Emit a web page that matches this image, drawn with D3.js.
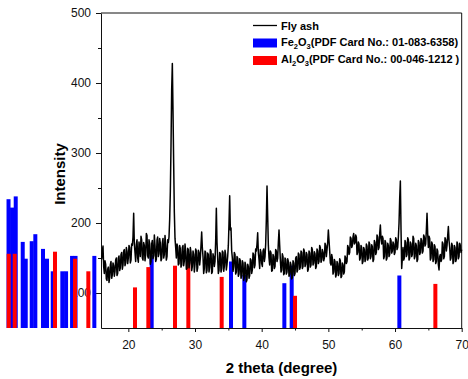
<!DOCTYPE html>
<html>
<head>
<meta charset="utf-8">
<script src="https://cdn.jsdelivr.net/npm/d3@7/dist/d3.min.js"></script>
<style>
  body { margin: 0; background: #fff; }
  svg { font-family: "Liberation Sans", Arial, sans-serif; }
</style>
</head>
<body>
<svg id="chart" width="468" height="379"></svg>
<script>
// XRD scan of fly ash (2 theta from 16.0, every 0.1 deg)
const scanStart = 16.0;
const scanStep = 0.1;
const flyAsh = [
  148, 160, 167, 138, 128, 146, 141, 120, 118, 134, 137, 115, 122, 140, 145, 121, 126, 143, 139, 124,
  131, 147, 150, 125, 128, 150, 153, 132, 136, 155, 158, 134, 140, 160, 162, 139, 143, 165, 160, 142,
  150, 168, 165, 143, 147, 170, 168, 180, 214, 170, 158, 145, 170, 176, 150, 144, 173, 165, 152, 181,
  176, 150, 147, 172, 168, 146, 155, 185, 182, 153, 150, 176, 171, 141, 145, 170, 175, 149, 153, 183,
  169, 145, 148, 176, 180, 152, 156, 178, 171, 146, 149, 172, 178, 150, 155, 182, 168, 147, 152, 176,
  172, 180, 205, 245, 310, 390, 428, 360, 285, 215, 178, 165, 150, 170, 166, 140, 142, 168, 163, 137,
  140, 165, 168, 139, 146, 170, 160, 134, 135, 164, 162, 136, 143, 165, 158, 132, 138, 160, 155, 130,
  141, 163, 160, 131, 136, 161, 158, 140, 150, 168, 187, 165, 152, 128, 135, 160, 158, 129, 132, 157,
  155, 130, 137, 162, 160, 128, 130, 156, 152, 138, 145, 175, 221, 172, 150, 128, 132, 158, 156, 130,
  135, 160, 158, 131, 138, 161, 155, 133, 141, 152, 168, 200, 239, 190, 193, 160, 150, 131, 138, 158,
  155, 127, 130, 152, 150, 124, 127, 149, 146, 121, 125, 146, 143, 118, 122, 144, 140, 116, 119, 141,
  138, 121, 125, 149, 147, 128, 133, 157, 155, 136, 140, 163, 160, 170, 186, 158, 148, 135, 162, 158,
  142, 138, 160, 163, 145, 152, 170, 205, 253, 210, 168, 150, 140, 160, 157, 131, 132, 155, 152, 135,
  138, 162, 160, 145, 150, 172, 190, 168, 148, 130, 133, 156, 152, 126, 128, 150, 148, 127, 130, 149,
  145, 124, 127, 144, 140, 120, 122, 146, 143, 125, 128, 150, 152, 130, 133, 157, 155, 134, 137, 160,
  158, 135, 138, 163, 160, 138, 141, 158, 155, 131, 134, 160, 157, 137, 140, 165, 162, 140, 143, 159,
  156, 135, 138, 163, 160, 142, 145, 168, 165, 144, 147, 162, 158, 146, 150, 171, 168, 152, 162, 172,
  190, 175, 160, 143, 140, 155, 150, 127, 130, 148, 145, 123, 126, 145, 142, 125, 128, 149, 146, 122,
  124, 143, 140, 127, 130, 153, 150, 142, 145, 168, 165, 155, 158, 180, 178, 165, 168, 180, 185, 170,
  172, 183, 180, 155, 158, 173, 170, 147, 150, 168, 165, 142, 145, 165, 162, 145, 148, 170, 167, 147,
  150, 173, 170, 149, 152, 169, 166, 145, 148, 175, 172, 155, 158, 183, 180, 162, 165, 185, 197, 178,
  170, 181, 178, 149, 152, 175, 172, 147, 150, 171, 168, 152, 155, 178, 175, 157, 160, 173, 170, 155,
  158, 179, 176, 162, 165, 180, 200, 235, 260, 190, 135, 150, 165, 147, 150, 175, 172, 152, 155, 179,
  176, 147, 150, 173, 170, 152, 155, 181, 178, 149, 152, 171, 168, 145, 148, 175, 172, 155, 158, 178,
  175, 157, 160, 183, 180, 167, 170, 190, 214, 185, 165, 181, 178, 147, 150, 173, 170, 145, 148, 169,
  166, 142, 145, 163, 160, 140, 133, 152, 155, 145, 148, 173, 170, 149, 152, 179, 176, 160, 168, 182,
  195, 175, 165, 147, 150, 171, 168, 142, 145, 168, 165, 145, 148, 173, 170, 149, 152, 171, 168, 158,
  162
];

// reference pattern sticks (2 theta, intensity)
const fe2o3Pos = [2.03, 2.56, 3.11, 4.16, 4.61, 5.51, 6.05, 7.2, 7.8, 8.66, 10.1, 10.66, 11.56, 12.08, 14.9,
                  23.5, 35.4, 37.4, 43.4, 44.5, 60.65];
const fe2o3Int = [234, 222, 238, 173, 149, 174, 184, 163, 149, 131, 131, 131, 153, 153, 153,
                  154, 145, 126, 114, 139, 125];
const al2o3Pos = [2.06, 2.96, 9.0, 12.0, 14.0,
                  21.0, 23.0, 27.0, 29.0, 34.0, 45.0, 66.05];
const al2o3Int = [156, 156, 159, 149, 131,
                  108, 137, 139, 147, 123, 96, 113];

const xTicks = [20, 30, 40, 50, 60, 70];
const xMinor = [25, 35, 45, 55, 65];
const yTicks = [100, 200, 300, 400, 500];
const yMinor = [150, 250, 350, 450];

const legendLabels = ["Fly ash", "Fe", "Al"];

let svg = d3.select("#chart");

let x = d3.scaleLinear().domain([15.9, 70]).range([101, 461.7]);
let y = d3.scaleLinear().domain([50, 500]).range([328, 13]);

// axes
svg.append("g")
    .attr("transform", `translate(0, ${y(50)})`)
    .call(d3.axisBottom(x).tickValues(xTicks).tickSize(4).tickSizeOuter(0).tickPadding(8));
svg.append("g")
    .attr("transform", `translate(0, ${y(50)})`)
    .call(d3.axisBottom(x).tickValues(xMinor).tickSize(2.5).tickFormat(""))
    .select(".domain").remove();

svg.append("g")
    .attr("transform", `translate(${x(15.9)}, 0)`)
    .call(d3.axisLeft(y).tickValues(yTicks).tickSize(5).tickSizeOuter(0).tickPadding(5));
svg.append("g")
    .attr("transform", `translate(${x(15.9)}, 0)`)
    .call(d3.axisLeft(y).tickValues(yMinor).tickSize(3).tickFormat(""))
    .select(".domain").remove();

svg.selectAll(".tick text")
    .style("font-size", "12px")
    .style("fill", "#111");
svg.selectAll(".domain, .tick line").attr("stroke", "#111");

// frame top/right
svg.append("line")
    .attr("x1", x(15.9)).attr("x2", x(70))
    .attr("y1", y(500)).attr("y2", y(500))
    .attr("stroke", "#111");
svg.append("line")
    .attr("x1", x(70)).attr("x2", x(70))
    .attr("y1", y(500)).attr("y2", y(50))
    .attr("stroke", "#111");

// pattern sticks (not clipped, as in the original)
let barW = x(0.6) - x(0);
svg.append("g").selectAll("rect")
    .data(fe2o3Pos)
    .join("rect")
    .attr("x", d => x(d) - barW / 2)
    .attr("width", barW)
    .attr("y", (d, i) => y(fe2o3Int[i]))
    .attr("height", (d, i) => y(50) - y(fe2o3Int[i]))
    .attr("fill", "#0000ff");
svg.append("g").selectAll("rect")
    .data(al2o3Pos)
    .join("rect")
    .attr("x", d => x(d) - barW / 2)
    .attr("width", barW)
    .attr("y", (d, i) => y(al2o3Int[i]))
    .attr("height", (d, i) => y(50) - y(al2o3Int[i]))
    .attr("fill", "#ff0000");

// trace
let line = d3.line()
    .x((d, i) => x(scanStart + i * scanStep))
    .y(d => y(d));
svg.append("path")
    .datum(flyAsh)
    .attr("d", line)
    .attr("fill", "none")
    .attr("stroke", "#000")
    .attr("stroke-width", 1.5)
    .attr("stroke-linejoin", "round");

// axis titles
svg.append("text")
    .attr("x", 281.5).attr("y", 373)
    .attr("text-anchor", "middle")
    .style("font-size", "15px").style("font-weight", "bold")
    .text("2 theta (degree)");
svg.append("text")
    .attr("transform", "translate(65, 174) rotate(-90)")
    .attr("text-anchor", "middle")
    .style("font-size", "15px").style("font-weight", "bold")
    .text("Intensity");

// legend
let lg = svg.append("g").style("font-size", "11px").style("font-weight", "bold");
lg.append("line")
    .attr("x1", 253).attr("x2", 277).attr("y1", 25.5).attr("y2", 25.5)
    .attr("stroke", "#000").attr("stroke-width", 1.3);
lg.append("text").attr("x", 281).attr("y", 29.5).text(legendLabels[0]);

lg.append("rect").attr("x", 253).attr("y", 38.5).attr("width", 24).attr("height", 9).attr("fill", "#0000ff");
let t1 = lg.append("text").attr("x", 281).attr("y", 45.5);
t1.append("tspan").text(legendLabels[1]);
t1.append("tspan").attr("dy", 3).style("font-size", "7.5px").text("2");
t1.append("tspan").attr("dy", -3).text("O");
t1.append("tspan").attr("dy", 3).style("font-size", "7.5px").text("3");
t1.append("tspan").attr("dy", -3).text("(PDF Card No.: 01-083-6358)");

lg.append("rect").attr("x", 253).attr("y", 56).attr("width", 24).attr("height", 9).attr("fill", "#ff0000");
let t2 = lg.append("text").attr("x", 281).attr("y", 63);
t2.append("tspan").text(legendLabels[2]);
t2.append("tspan").attr("dy", 3).style("font-size", "7.5px").text("2");
t2.append("tspan").attr("dy", -3).text("O");
t2.append("tspan").attr("dy", 3).style("font-size", "7.5px").text("3");
t2.append("tspan").attr("dy", -3).text("(PDF Card No.: 00-046-1212 )");
</script>
</body>
</html>
